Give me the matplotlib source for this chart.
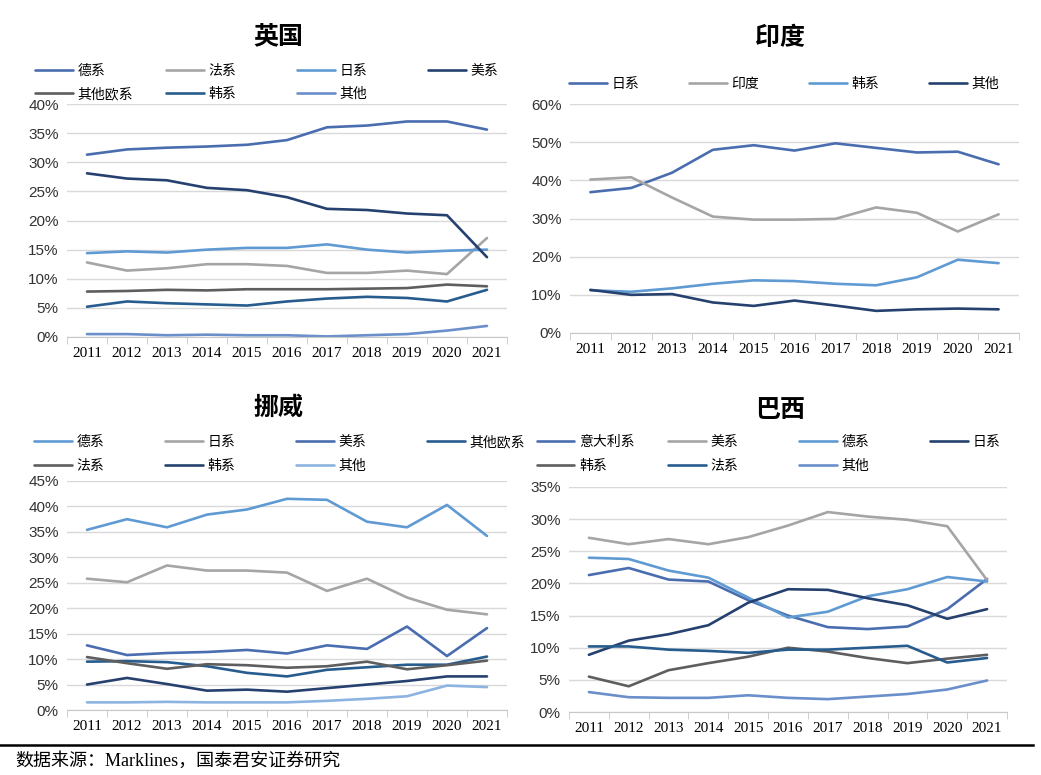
import numpy as np
import matplotlib
matplotlib.use("Agg")
import matplotlib.pyplot as plt
from matplotlib.lines import Line2D
from matplotlib.ticker import FixedLocator, FuncFormatter

plt.rcParams['font.family'] = ['Noto Sans CJK SC', 'DejaVu Sans']

years = [str(y) for y in range(2011, 2022)]

# 英国
uk_labels = ['德系', '法系', '日系', '美系', '其他欧系', '韩系', '其他']
uk_de = [31.3, 32.2, 32.5, 32.7, 33.0, 33.8, 36.0, 36.3, 37.0, 37.0, 35.6]
uk_fr = [12.8, 11.4, 11.8, 12.5, 12.5, 12.2, 11.0, 11.0, 11.4, 10.8, 17.0]
uk_jp = [14.4, 14.7, 14.5, 15.0, 15.3, 15.3, 15.9, 15.0, 14.5, 14.8, 15.0]
uk_us = [28.1, 27.2, 26.9, 25.6, 25.2, 24.0, 22.0, 21.8, 21.2, 20.9, 13.7]
uk_eu = [7.8, 7.9, 8.1, 8.0, 8.2, 8.2, 8.2, 8.3, 8.4, 9.0, 8.7]
uk_kr = [5.2, 6.1, 5.8, 5.6, 5.4, 6.1, 6.6, 6.9, 6.7, 6.1, 8.1]
uk_ot = [0.5, 0.5, 0.3, 0.4, 0.3, 0.3, 0.1, 0.3, 0.5, 1.1, 1.9]

# 印度
in_labels = ['日系', '印度', '韩系', '其他']
in_jp = [36.9, 38.0, 42.0, 48.0, 49.2, 47.8, 49.7, 48.5, 47.3, 47.5, 44.2]
in_in = [40.2, 40.8, 35.5, 30.5, 29.7, 29.7, 29.9, 32.9, 31.5, 26.6, 31.1]
in_kr = [11.2, 10.8, 11.7, 12.9, 13.8, 13.6, 12.9, 12.5, 14.6, 19.2, 18.3]
in_ot = [11.3, 10.0, 10.2, 8.0, 7.1, 8.5, 7.2, 5.8, 6.2, 6.4, 6.2]

# 挪威
no_labels = ['德系', '日系', '美系', '其他欧系', '法系', '韩系', '其他']
no_de = [35.4, 37.5, 35.9, 38.4, 39.4, 41.5, 41.3, 37.0, 35.9, 40.3, 34.2]
no_jp = [25.8, 25.1, 28.4, 27.4, 27.4, 27.0, 23.4, 25.8, 22.1, 19.7, 18.8]
no_us = [12.7, 10.8, 11.2, 11.4, 11.8, 11.1, 12.7, 12.0, 16.4, 10.6, 16.1]
no_eu = [9.5, 9.6, 9.4, 8.6, 7.3, 6.6, 7.9, 8.4, 8.9, 8.9, 10.5]
no_fr = [10.4, 9.2, 8.1, 9.0, 8.8, 8.3, 8.6, 9.5, 8.0, 8.8, 9.7]
no_kr = [5.0, 6.3, 5.1, 3.8, 4.0, 3.6, 4.3, 5.0, 5.7, 6.6, 6.6]
no_ot = [1.5, 1.5, 1.6, 1.5, 1.5, 1.5, 1.8, 2.2, 2.7, 4.8, 4.5]

# 巴西
br_labels = ['意大利系', '美系', '德系', '日系', '韩系', '法系', '其他']
br_it = [21.3, 22.4, 20.6, 20.3, 17.4, 15.0, 13.2, 12.9, 13.3, 16.0, 20.7]
br_us = [27.1, 26.1, 26.9, 26.1, 27.2, 29.0, 31.1, 30.4, 29.9, 28.9, 20.5]
br_de = [24.0, 23.8, 22.0, 20.9, 17.8, 14.7, 15.6, 18.0, 19.1, 21.0, 20.3]
br_jp = [8.9, 11.1, 12.1, 13.5, 17.0, 19.1, 19.0, 17.7, 16.6, 14.5, 16.0]
br_kr = [5.5, 4.0, 6.5, 7.6, 8.6, 10.0, 9.4, 8.4, 7.6, 8.3, 8.9]
br_fr = [10.2, 10.2, 9.7, 9.5, 9.2, 9.7, 9.7, 10.0, 10.3, 7.7, 8.4]
br_ot = [3.1, 2.3, 2.2, 2.2, 2.6, 2.2, 2.0, 2.4, 2.8, 3.5, 4.9]

BLUE = '#4A6DB0'
GRAY = '#A5A5A5'
LBLUE = '#5F9AD2'
NAVY = '#26416F'
DGRAY = '#5E5E5E'
STEEL = '#275C8E'
PBLUE = '#6A8FCB'
SKY = '#8DB4E0'

W, H = 1041, 775


def px_rect(x0, x1, ytop, ybot):
    return [x0 / W, 1 - ybot / H, (x1 - x0) / W, (ybot - ytop) / H]


def draw_panel(fig, rect, series, colors, ymax, ystep):
    ax = fig.add_axes(rect)
    x = np.arange(len(years))
    lines = []
    for vals, c in zip(series, colors):
        ln, = ax.plot(x, np.array(vals) / 100.0, color=c, lw=1.9,
                      solid_joinstyle='round', solid_capstyle='round')
        lines.append(ln)
    ax.set_xlim(-0.5, len(years) - 0.5)
    ax.set_ylim(0, ymax / 100.0)
    ax.yaxis.set_major_locator(FixedLocator(np.arange(0, ymax + 0.1, ystep) / 100.0))
    ax.yaxis.set_major_formatter(FuncFormatter(lambda v, p: f"{v * 100:.0f}%"))
    ax.grid(axis='y', color='#D9D9D9', lw=1.0)
    ax.set_axisbelow(True)
    for s in ['top', 'right', 'left']:
        ax.spines[s].set_visible(False)
    ax.spines['bottom'].set_color('#C8C8C8')
    ax.set_xticks(x)
    ax.set_xticklabels(years, family='Liberation Serif', fontsize=11)
    ax.set_xticks(np.arange(-0.5, len(years)), minor=True)
    ax.tick_params(axis='x', which='major', length=0, pad=7)
    ax.tick_params(axis='x', which='minor', length=5, color='#C8C8C8')
    ax.tick_params(axis='y', length=0, pad=6)
    for t in ax.get_yticklabels():
        t.set_family('Liberation Sans')
        t.set_fontsize(11)
        t.set_color('#333333')
    return lines


def place_legend(fig, lines, labels, x0, ys, col_w, ncol=4):
    for i, (ln, lab) in enumerate(zip(lines, labels)):
        r, c = divmod(i, ncol)
        fig.legend([ln], [lab], loc='center left',
                   bbox_to_anchor=((x0 + c * col_w) / W, 1 - ys[r] / H),
                   frameon=False, borderpad=0, borderaxespad=0,
                   handlelength=2.7, handletextpad=0.35, fontsize=10)


fig = plt.figure(figsize=(W / 100, H / 100), dpi=100)

# 英国
ln = draw_panel(fig, px_rect(67, 507, 104, 337),
                [uk_de, uk_fr, uk_jp, uk_us, uk_eu, uk_kr, uk_ot],
                [BLUE, GRAY, LBLUE, NAVY, DGRAY, STEEL, PBLUE], 40, 5)
place_legend(fig, ln, uk_labels, 35, [71, 94], 131)
fig.text(278 / W, 1 - 36 / H, '英国', ha='center', va='center',
         fontsize=18, fontweight='bold')

# 印度
ln = draw_panel(fig, px_rect(570, 1019, 104, 333),
                [in_jp, in_in, in_kr, in_ot],
                [BLUE, GRAY, LBLUE, NAVY], 60, 10)
place_legend(fig, ln, in_labels, 569, [84], 120)
fig.text(780 / W, 1 - 38 / H, '印度', ha='center', va='center',
         fontsize=18, fontweight='bold')

# 挪威
ln = draw_panel(fig, px_rect(67, 507, 481, 710),
                [no_de, no_jp, no_us, no_eu, no_fr, no_kr, no_ot],
                [LBLUE, GRAY, BLUE, STEEL, DGRAY, NAVY, SKY], 45, 5)
place_legend(fig, ln, no_labels, 34, [442, 466], 131)
fig.text(278 / W, 1 - 408 / H, '挪威', ha='center', va='center',
         fontsize=18, fontweight='bold')

# 巴西
ln = draw_panel(fig, px_rect(569, 1007, 487, 712),
                [br_it, br_us, br_de, br_jp, br_kr, br_fr, br_ot],
                [BLUE, GRAY, LBLUE, NAVY, DGRAY, STEEL, PBLUE], 35, 5)
place_legend(fig, ln, br_labels, 537, [442, 466], 131)
fig.text(780 / W, 1 - 410 / H, '巴西', ha='center', va='center',
         fontsize=18, fontweight='bold')

# footer
fig.add_artist(Line2D([0, 1033 / W], [1 - 745 / H, 1 - 745 / H],
                      color='black', lw=1.8, transform=fig.transFigure))
fig.text(15 / W, 1 - 761 / H, '数据来源：Marklines，国泰君安证券研究',
         ha='left', va='center', fontsize=13,
         family=['Liberation Serif', 'Noto Sans CJK SC'])

fig.savefig('out.png', dpi=100)
